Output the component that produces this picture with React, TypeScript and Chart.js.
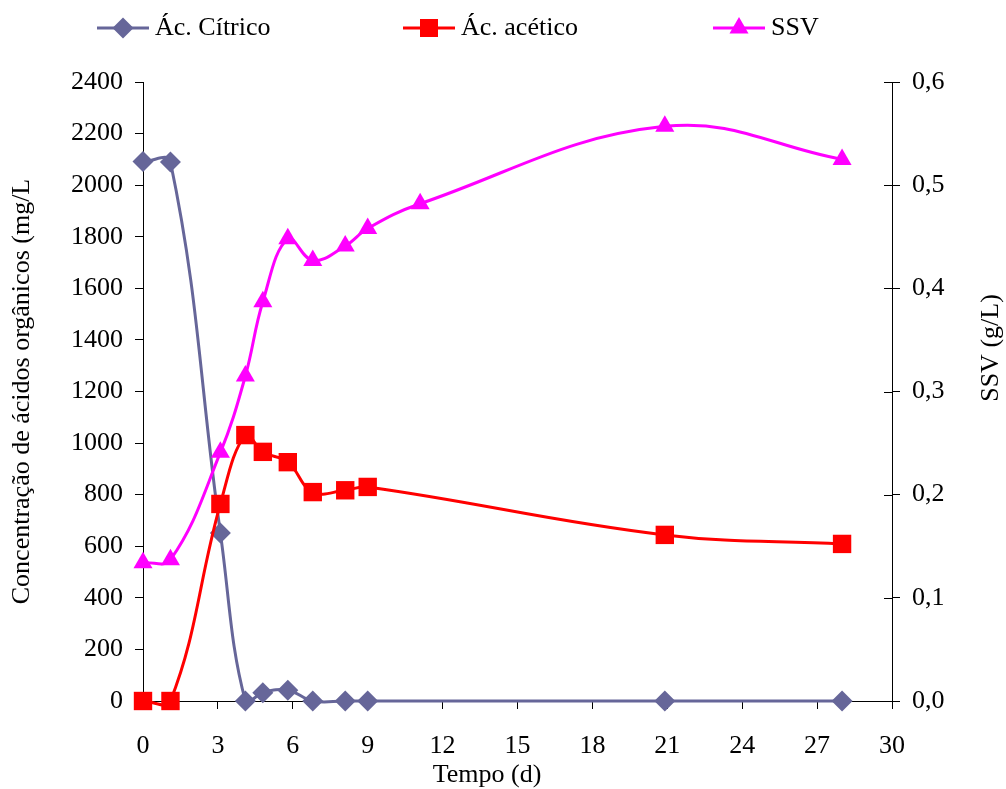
import React, { useEffect, useRef } from "react";
import { Chart, registerables } from "chart.js";

Chart.register(...registerables);

// ---- data ----
const acidDays = [0, 1.1, 3.1, 4.1, 4.8, 5.8, 6.8, 8.1, 9.0, 20.9, 28.0];
const citrico = [2092, 2090, 651, 0, 32, 42, 0, 0, 0, 0, 0];
const acetico = [0, 0, 764, 1031, 966, 926, 810, 817, 830, 644, 609];
const ssvDays = [0, 1.1, 3.1, 4.1, 4.8, 5.8, 6.8, 8.1, 9.0, 11.1, 20.9, 28.0];
const ssv = [0.134, 0.137, 0.241, 0.315, 0.387, 0.448, 0.427, 0.441, 0.458, 0.482, 0.557, 0.525];

const seriesNames = ["Ác. Cítrico", "Ác. acético", "SSV"];
const xTitle = "Tempo (d)";
const yLeftTitle = "Concentração de ácidos orgânicos (mg/L";
const yRightTitle = "SSV (g/L)";

const C_CIT = "#666699";
const C_ACE = "#FF0000";
const C_SSV = "#FF00FF";
const FONT = '"Liberation Serif", "Times New Roman", serif';
const FS = 26;

function pts(xs: number[], ys: number[]) {
  return xs.map((x, i) => ({ x, y: ys[i] }));
}

function drawMarker(ctx: CanvasRenderingContext2D, kind: string, x: number, y: number, color: string) {
  ctx.fillStyle = color;
  ctx.beginPath();
  if (kind === "diamond") {
    const r = 10.5;
    ctx.moveTo(x - r, y);
    ctx.lineTo(x, y - r);
    ctx.lineTo(x + r, y);
    ctx.lineTo(x, y + r);
  } else if (kind === "square") {
    const h = 9;
    ctx.rect(x - h, y - h, 2 * h, 2 * h);
  } else {
    const r = 11;
    ctx.moveTo(x, y - r);
    ctx.lineTo(x + r * Math.sin((2 * Math.PI) / 3), y + r / 2);
    ctx.lineTo(x - r * Math.sin((2 * Math.PI) / 3), y + r / 2);
  }
  ctx.closePath();
  ctx.fill();
}

const overlay = {
  id: "overlay",
  afterDraw(chart: any) {
    const ctx: CanvasRenderingContext2D = chart.ctx;
    const ca = chart.chartArea;
    ctx.save();
    // inner ticks on right axis
    const yr = chart.scales.y1;
    ctx.strokeStyle = "#000";
    ctx.lineWidth = 1;
    yr.ticks.forEach((t: any) => {
      const py = Math.round(yr.getPixelForValue(t.value)) + 0.5;
      ctx.beginPath();
      ctx.moveTo(ca.right - 8, py);
      ctx.lineTo(ca.right, py);
      ctx.stroke();
    });

    ctx.fillStyle = "#000";
    ctx.font = `${FS}px ${FONT}`;
    ctx.textAlign = "center";
    ctx.textBaseline = "middle";
    ctx.fillText(xTitle, 487, 775);

    ctx.save();
    ctx.translate(22, (ca.top + ca.bottom) / 2);
    ctx.rotate(-Math.PI / 2);
    ctx.fillText(yLeftTitle, 0, 0);
    ctx.restore();

    ctx.save();
    ctx.translate(991, 348);
    ctx.rotate(-Math.PI / 2);
    ctx.fillText(yRightTitle, 0, 0);
    ctx.restore();

    // legend
    const items = [
      { name: seriesNames[0], color: C_CIT, kind: "diamond", x0: 97 },
      { name: seriesNames[1], color: C_ACE, kind: "square", x0: 403 },
      { name: seriesNames[2], color: C_SSV, kind: "triangle", x0: 713 },
    ];
    const ly = 28;
    items.forEach((it) => {
      ctx.strokeStyle = it.color;
      ctx.lineWidth = 3;
      ctx.beginPath();
      ctx.moveTo(it.x0, ly);
      ctx.lineTo(it.x0 + 52, ly);
      ctx.stroke();
      drawMarker(ctx, it.kind, it.x0 + 26, ly, it.color);
      ctx.fillStyle = "#000";
      ctx.textAlign = "left";
      ctx.fillText(it.name, it.x0 + 58, ly);
    });
    ctx.restore();
  },
};

export default function App() {
  const ref = useRef<HTMLCanvasElement | null>(null);
  useEffect(() => {
    if (!ref.current) return;
    const tickFont = { family: FONT, size: FS };
    const chart = new Chart(ref.current, {
      type: "line",
      data: {
        datasets: [
          {
            label: seriesNames[0],
            data: pts(acidDays, citrico),
            borderColor: C_CIT,
            backgroundColor: C_CIT,
            borderWidth: 3,
            pointStyle: "rectRot",
            pointRadius: 10.5,
            pointBorderWidth: 0,
            yAxisID: "y",
            order: 3,
            clip: false as any,
          },
          {
            label: seriesNames[1],
            data: pts(acidDays, acetico),
            borderColor: C_ACE,
            backgroundColor: C_ACE,
            borderWidth: 3,
            pointStyle: "rect",
            pointRadius: 13,
            pointBorderWidth: 0,
            yAxisID: "y",
            order: 2,
            clip: false as any,
          },
          {
            label: seriesNames[2],
            data: pts(ssvDays, ssv),
            borderColor: C_SSV,
            backgroundColor: C_SSV,
            borderWidth: 3,
            pointStyle: "triangle",
            pointRadius: 11,
            pointBorderWidth: 0,
            yAxisID: "y1",
            order: 1,
            clip: false as any,
          },
        ],
      },
      options: {
        responsive: false,
        animation: false,
        events: [],
        layout: { padding: { top: 82, left: 0, right: 0, bottom: 0 } },
        elements: { line: { tension: 0.4, capBezierPoints: false } },
        plugins: { legend: { display: false }, tooltip: { enabled: false } },
        scales: {
          x: {
            type: "linear",
            min: 0,
            max: 30,
            ticks: { stepSize: 3, font: tickFont, color: "#000", padding: 22, callback: (v: any) => String(v) },
            grid: { drawOnChartArea: false, drawTicks: true, tickLength: 8, color: "#000" },
            border: { display: true, color: "#000", width: 1 },
            afterFit: (s: any) => { s.height = 88; },
          },
          y: {
            position: "left",
            min: 0,
            max: 2400,
            ticks: { stepSize: 200, font: tickFont, color: "#000", padding: 12, callback: (v: any) => String(v) },
            grid: { drawOnChartArea: false, drawTicks: true, tickLength: 8, color: "#000" },
            border: { display: true, color: "#000", width: 1 },
            afterFit: (s: any) => { s.width = 143; },
          },
          y1: {
            position: "right",
            min: 0,
            max: 0.6,
            ticks: {
              stepSize: 0.1,
              font: tickFont,
              color: "#000",
              padding: 12,
              callback: (v: any) => Number(v).toFixed(1).replace(".", ","),
            },
            grid: { drawOnChartArea: false, drawTicks: true, tickLength: 8, color: "#000" },
            border: { display: true, color: "#000", width: 1 },
            afterFit: (s: any) => { s.width = 114; },
          },
        },
      } as any,
      plugins: [overlay],
    });
    return () => chart.destroy();
  }, []);
  return (
    <div style={{ position: "absolute", left: 0, top: 0, width: 1006, height: 789, background: "#fff" }}>
      <canvas ref={ref} width={1006} height={789} />
    </div>
  );
}
